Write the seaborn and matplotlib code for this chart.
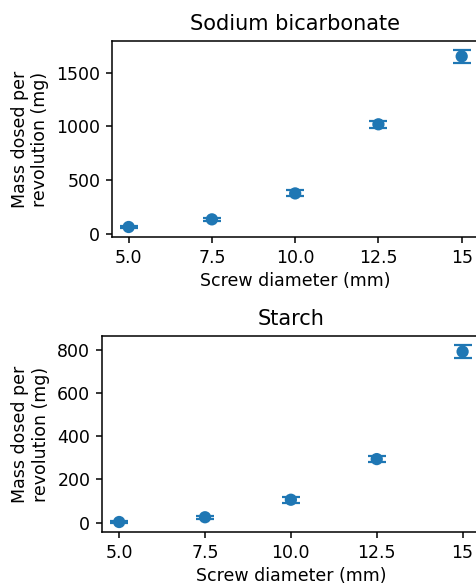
import numpy as np
import pandas as pd
import matplotlib
matplotlib.use('Agg')
import matplotlib.pyplot as plt
import seaborn as sns

# Data
diameters = [5.0, 7.5, 10.0, 12.5, 15.0]
tick_labels = ['5.0', '7.5', '10.0', '12.5', '15']

soda_mass = [65, 136, 377, 1019, 1650]
soda_err = [10, 12, 28, 30, 60]

starch_mass = [3, 25, 106, 294, 791]
starch_err = [5, 6, 14, 15, 31]

sns.set_style("ticks")
plt.rcParams['font.family'] = ['DejaVu Sans']
plt.rcParams['text.color'] = 'black'
plt.rcParams['axes.labelcolor'] = 'black'

fig = plt.figure(figsize=(4.77, 5.85), dpi=100)
# axes run slightly past the right edge, like the cropped original
ax1 = fig.add_axes([0.2348, 0.5949, 0.768, 0.335])
ax2 = fig.add_axes([0.2138, 0.0906, 0.792, 0.335])

panels = [
    (ax1, 'Sodium bicarbonate', soda_mass, soda_err),
    (ax2, 'Starch', starch_mass, starch_err),
]

for ax, title, mass, err in panels:
    df = pd.DataFrame({'diameter': diameters, 'mass': mass, 'err': err})
    ax.errorbar(df['diameter'], df['mass'], yerr=df['err'], fmt='none',
                ecolor='#1f77b4', capsize=6.5, elinewidth=1.6, capthick=1.6)
    sns.scatterplot(data=df, x='diameter', y='mass', ax=ax, color='#1f77b4',
                    s=78, edgecolor='none', zorder=3)
    ax.set_xticks(diameters)
    ax.set_xticklabels(tick_labels)
    ax.set_xlabel('Screw diameter (mm)', fontsize=12.5, labelpad=4, color='black')
    ax.set_ylabel('Mass dosed per\nrevolution (mg)', fontsize=12.5, labelpad=5, color='black')
    ax.set_title(title, fontsize=15, pad=8, color='black')
    for side in ['top', 'right', 'left', 'bottom']:
        ax.spines[side].set_visible(True)
        ax.spines[side].set_color('black')
        ax.spines[side].set_linewidth(1.1)
    ax.tick_params(colors='black', labelcolor='black', labelsize=12.5,
                   length=4.4, width=1.1, pad=4)
    ax.margins(x=0.05, y=0.05)

ax1.set_yticks([0, 500, 1000, 1500])
ax2.set_yticks([0, 200, 400, 600, 800])

fig.savefig('out.png', dpi=100)
